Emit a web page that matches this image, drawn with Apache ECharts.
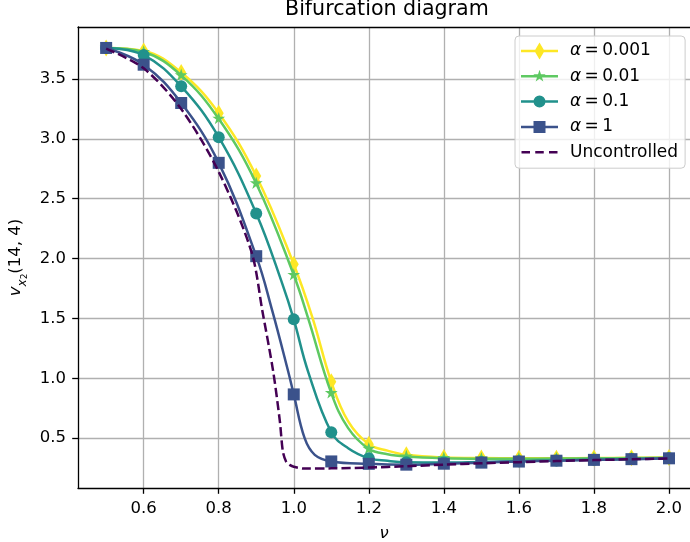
<!DOCTYPE html>
<html><head><meta charset="utf-8">
<script src="https://cdn.jsdelivr.net/npm/echarts@6/dist/echarts.min.js"></script>
<style>html,body{margin:0;padding:0;background:#fff}#c{width:690px;height:542px}</style>
</head><body><div id="c"></div>
<script>
// ---- data ----
const markX = [0.5,0.6,0.7,0.8,0.9,1.0,1.1,1.2,1.3,1.4,1.5,1.6,1.7,1.8,1.9,2.0];

const a0001Marks = [3.76,3.735,3.555,3.215,2.69,1.953,0.97,0.449,0.36,0.338,0.333,0.332,0.332,0.333,0.335,0.338];
const a0001ExtraX = [1.05,1.145,1.25];
const a0001ExtraY = [1.505,0.639,0.395];

const a001Marks = [3.76,3.726,3.531,3.168,2.628,1.863,0.876,0.41,0.346,0.332,0.328,0.328,0.329,0.331,0.333,0.336];
const a001ExtraX = [1.038,1.145,1.25];
const a001ExtraY = [1.505,0.583,0.365];

const a01Marks = [3.76,3.70,3.439,3.014,2.377,1.492,0.549,0.331,0.298,0.296,0.301,0.307,0.313,0.319,0.325,0.332];
const a01ExtraX = [0.97,1.038,1.145,1.25];
const a01ExtraY = [1.785,1.058,0.415,0.31];

const a1Marks = [3.76,3.62,3.30,2.80,2.02,0.865,0.305,0.285,0.278,0.286,0.295,0.304,0.311,0.318,0.324,0.331];
const a1ExtraX = [0.943,0.985,1.029,1.056];
const a1ExtraY = [1.561,1.058,0.499,0.36];

const uncX = [0.5,0.6,0.7,0.8,0.887,0.9165,0.945,0.963,0.971,0.98,0.989,1.0,1.029,1.1,1.2,1.3,1.4,1.5,1.6,1.7,1.8,1.9,2.0];
const uncY = [3.755,3.59,3.25,2.725,2.06,1.56,1.06,0.639,0.388,0.30,0.276,0.26,0.245,0.247,0.254,0.265,0.278,0.289,0.299,0.308,0.316,0.323,0.33];

const seriesNames = ['α = 0.001','α = 0.01','α = 0.1','α = 1','Uncontrolled'];
const xTicks = [0.6,0.8,1.0,1.2,1.4,1.6,1.8,2.0];
const yTicks = [0.5,1.0,1.5,2.0,2.5,3.0,3.5];

// ---- build ----
const colors = ['#fde725','#5ec962','#21918c','#3b528b','#440154'];
const FONT = 'DejaVu Sans';
const X_MIN = 0.425, X_MAX = 2.056, Y_MIN = 0.083, Y_MAX = 3.935;
function pairs(xs, ys){ return xs.map((x,i)=>[x,ys[i]]); }
function curve(mx, my, ex, ey){
  return pairs(mx,my).concat(pairs(ex,ey)).sort((a,b)=>a[0]-b[0]);
}
// plot marker shapes
const diamondSym = 'path://M5,0L10,8.5L5,17L0,8.5Z';
const starSym = 'path://M0,0L0,0M100,100L100,100M50,5L60.1,36.1L92.8,36.1L66.4,55.3L76.5,86.4L50,67.2L23.5,86.4L33.6,55.3L7.2,36.1L39.9,36.1Z';
// legend icons (line + marker) in a 37x18 box
const BOX = 'M0,0L0,0M37,18L37,18';
const LINE = 'M0,7.75h37v2.5h-37z';
const legendIcons = [
  'path://' + BOX + LINE + 'M18.5,0.5L23.5,9L18.5,17.5L13.5,9Z',
  'path://' + BOX + LINE + 'M18.5,2.5L19.96,6.99L24.68,6.99L20.86,9.77L22.32,14.26L18.5,11.48L14.68,14.26L16.14,9.77L12.32,6.99L17.04,6.99Z',
  'path://' + BOX + LINE + 'M12.5,9A6,6 0 1 1 24.5,9A6,6 0 1 1 12.5,9Z',
  'path://' + BOX + LINE + 'M12.5,3h12v12h-12z',
  'path://' + BOX + 'M0.5,7.75h8.5v2.5h-8.5zM14.25,7.75h8.5v2.5h-8.5zM28,7.75h8.5v2.5h-8.5z'
];
const defs = [
  {marks:a0001Marks, ex:a0001ExtraX, ey:a0001ExtraY, sym:diamondSym, size:[10,17]},
  {marks:a001Marks, ex:a001ExtraX, ey:a001ExtraY, sym:starSym, size:15},
  {marks:a01Marks, ex:a01ExtraX, ey:a01ExtraY, sym:'circle', size:12},
  {marks:a1Marks, ex:a1ExtraX, ey:a1ExtraY, sym:'rect', size:12}
];
const series = [];
defs.forEach((d,i)=>{
  series.push({
    name: seriesNames[i], type:'line', data: curve(markX, d.marks, d.ex, d.ey),
    smooth: 0.4, showSymbol:false, symbol:'none',
    lineStyle:{color:colors[i], width:2.5}, itemStyle:{color:colors[i]},
    animation:false, silent:true, z:2+i*2
  });
  series.push({
    name: seriesNames[i], type:'scatter', data: pairs(markX, d.marks),
    symbol:d.sym, symbolSize:d.size, itemStyle:{color:colors[i], opacity:1},
    animation:false, silent:true, z:3+i*2
  });
});
series.push({
  name: seriesNames[4], type:'line', data: pairs(uncX, uncY),
  smooth: 0.3, showSymbol:false, symbol:'none',
  lineStyle:{color:colors[4], width:2.5, type:[9.2,4]}, itemStyle:{color:colors[4]},
  animation:false, silent:true, z:12
});

const legendData = seriesNames.map((n,i)=>({name:n, icon:legendIcons[i]}));

const chart = echarts.init(document.getElementById('c'), null, {renderer:'canvas'});
chart.setOption({
  backgroundColor:'#fff',
  animation:false,
  title:{text:'Bifurcation diagram', left:285, top:-1, padding:0,
    textStyle:{fontFamily:FONT, fontSize:20.6, fontWeight:'normal', color:'#000'}},
  grid:{left:78, right:0, top:27, bottom:54, outerBoundsMode:'none', containLabel:false},
  legend:{
    data: legendData, orient:'vertical', left:515, top:36,
    itemWidth:37, itemHeight:18, itemGap:7.3,
    padding:[6,7,7,6],
    itemStyle:{borderWidth:0},
    backgroundColor:'rgba(255,255,255,0.8)', borderColor:'#cccccc', borderWidth:1, borderRadius:4,
    textStyle:{fontFamily:FONT, fontSize:17, lineHeight:18, color:'#000',
      rich:{a:{fontFamily:FONT, fontSize:17, lineHeight:18, fontStyle:'italic', color:'#000'},
            g:{width:7, lineHeight:18}}},
    formatter: n => '{g| }' + (n.charAt(0)==='α' ? '{a|α}' + n.slice(1).replace(/ /g,'\u2009') : n)
  },
  xAxis:[{
    type:'value', min:X_MIN, max:X_MAX,
    name:'ν', nameLocation:'middle', nameGap:37,
    nameTextStyle:{fontFamily:FONT, fontSize:16.5, fontStyle:'italic', color:'#000'},
    axisLine:{show:true, onZero:false, lineStyle:{color:'#000', width:1.3}},
    axisTick:{show:true, length:5.8, customValues:xTicks, lineStyle:{color:'#000', width:1.3}},
    axisLabel:{customValues:xTicks, margin:12.5, fontFamily:FONT, fontSize:16.5, color:'#000',
      formatter:v=>v.toFixed(1)},
    splitLine:{show:true, lineStyle:{color:'#b0b0b0', width:1.3}}
  },{
    type:'value', min:X_MIN, max:X_MAX, position:'top',
    axisLine:{show:true, onZero:false, lineStyle:{color:'#000', width:1.3}},
    axisTick:{show:false}, axisLabel:{show:false}, splitLine:{show:false}
  }],
  yAxis:{
    type:'value', min:Y_MIN, max:Y_MAX,
    name:'{i|v}{s|x}{t|2}{n|(14, 4)}', nameLocation:'middle', nameGap:43, nameRotate:90,
    nameTextStyle:{fontFamily:FONT, fontSize:16.5, color:'#000',
      rich:{
        i:{fontFamily:FONT, fontSize:16.5, fontStyle:'italic', lineHeight:26, color:'#000'},
        s:{fontFamily:FONT, fontSize:12, fontStyle:'italic', lineHeight:14, verticalAlign:'bottom', color:'#000'},
        t:{fontFamily:FONT, fontSize:9, lineHeight:8, verticalAlign:'bottom', color:'#000'},
        n:{fontFamily:FONT, fontSize:16.5, lineHeight:26, color:'#000'}
      }},
    axisLine:{show:true, onZero:false, lineStyle:{color:'#000', width:1.3}},
    axisTick:{show:true, length:5.8, customValues:yTicks, lineStyle:{color:'#000', width:1.3}},
    axisLabel:{customValues:yTicks, margin:12, fontFamily:FONT, fontSize:16.5, color:'#000',
      formatter:v=>v.toFixed(1)},
    splitLine:{show:true, lineStyle:{color:'#b0b0b0', width:1.3}}
  },
  series: series
});
</script>
</body></html>
